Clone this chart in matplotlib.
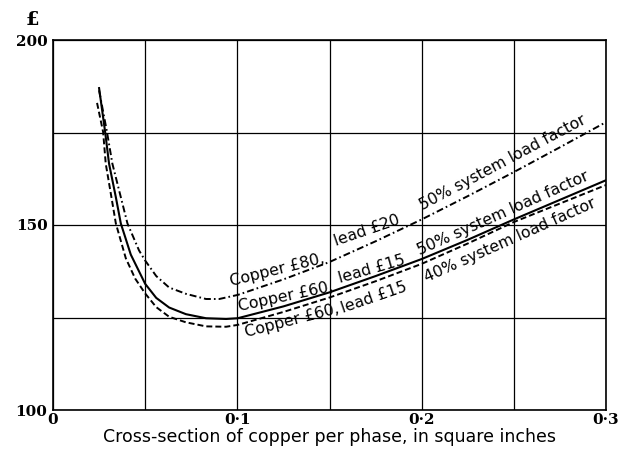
import matplotlib
matplotlib.use("Agg")
import matplotlib.pyplot as plt

plt.rcParams["lines.scale_dashes"] = False

# Annual cost (£) against copper cross-section (sq. in.) for three cases
x_cu80_lead20_50 = [0.025, 0.0293, 0.0322, 0.0368, 0.0404, 0.0467, 0.05, 0.056, 0.063,
                    0.0721, 0.083, 0.0902, 0.1002, 0.125, 0.15, 0.175, 0.2, 0.225,
                    0.25, 0.275, 0.3]
y_cu80_lead20_50 = [186.4, 175.1, 166.6, 157.5, 150.4, 143.1, 140.4, 136.2, 133.1,
                    131.4, 130.0, 130.0, 131.1, 135.3, 140.0, 145.6, 151.5, 157.8,
                    164.3, 171.0, 177.8]

x_cu60_lead15_50 = [0.025, 0.0283, 0.0304, 0.0341, 0.0368, 0.0422, 0.05, 0.056, 0.063,
                    0.0721, 0.083, 0.0939, 0.1002, 0.125, 0.15, 0.175, 0.2, 0.225,
                    0.25, 0.275, 0.3]
y_cu60_lead15_50 = [187.0, 175.1, 166.6, 157.5, 150.4, 142.0, 134.1, 130.3, 127.7,
                    125.9, 124.8, 124.6, 124.8, 128.0, 131.8, 136.2, 140.8, 146.0,
                    151.5, 156.8, 162.1]

x_cu60_lead15_40 = [0.0239, 0.0272, 0.0286, 0.0317, 0.0341, 0.0395, 0.0446, 0.05, 0.056,
                    0.063, 0.0721, 0.083, 0.0939, 0.1002, 0.125, 0.15, 0.175, 0.2,
                    0.225, 0.25, 0.275, 0.3]
y_cu60_lead15_40 = [183.0, 175.1, 166.6, 157.5, 150.4, 141.0, 135.5, 131.5, 127.8,
                    125.2, 123.7, 122.6, 122.5, 123.0, 126.5, 130.4, 134.8, 139.5,
                    145.0, 150.8, 155.8, 160.8]

x_grid = [0, 0.05, 0.1, 0.15, 0.2, 0.25, 0.3]
x_tick_labels = ["0", "", "0·1", "", "0·2", "", "0·3"]
y_grid = [100, 125, 150, 175, 200]
y_tick_labels = ["100", "", "150", "", "200"]

# Curve captions: (text, x, y, rotation)
captions = [
    ("Copper £80,", 0.0966, 133.6, 14),
    ("lead £20", 0.1537, 144.2, 19),
    ("50% system load factor", 0.2005, 153.9, 28),
    ("Copper £60,", 0.1011, 126.8, 12),
    ("lead £15", 0.1556, 134.4, 16),
    ("50% system load factor", 0.1989, 141.7, 24),
    ("Copper £60,", 0.1047, 119.6, 14.5),
    ("lead £15", 0.1574, 126.2, 19),
    ("40% system load factor", 0.2026, 134.5, 24),
]

fig = plt.figure(figsize=(6.21, 4.5), dpi=100)
ax = fig.add_axes([53 / 621, 1 - 410 / 450, 553 / 621, 370 / 450])

ax.plot(x_cu80_lead20_50, y_cu80_lead20_50, color="black", lw=1.4,
        dashes=(5.0, 2.2, 1.2, 2.2))
ax.plot(x_cu60_lead15_50, y_cu60_lead15_50, color="black", lw=1.5)
ax.plot(x_cu60_lead15_40, y_cu60_lead15_40, color="black", lw=1.4,
        dashes=(4.3, 2.2))

for text, tx, ty, rot in captions:
    ax.text(tx, ty, text, rotation=rot, rotation_mode="anchor",
            ha="left", va="baseline", fontsize=11.3, family="DejaVu Sans")

ax.set_xlim(0, 0.3)
ax.set_ylim(100, 200)
ax.set_xticks(x_grid, labels=x_tick_labels)
ax.set_yticks(y_grid, labels=y_tick_labels)
ax.grid(True, color="black", lw=0.9)
ax.tick_params(length=0, labelsize=11)
ax.tick_params(axis="x", pad=2)
ax.tick_params(axis="y", pad=4)
for lab in ax.get_xticklabels() + ax.get_yticklabels():
    lab.set_family("DejaVu Serif")
    lab.set_fontweight("bold")
for sp in ax.spines.values():
    sp.set_linewidth(1.2)

fig.text(32 / 621, 1 - 20 / 450, "£", ha="center", va="center",
         fontsize=14, fontweight="bold", family="DejaVu Serif")
ax.set_xlabel("Cross-section of copper per phase, in square inches",
              fontsize=12.5, labelpad=1, family="DejaVu Sans")

fig.savefig("out.png", dpi=100)
